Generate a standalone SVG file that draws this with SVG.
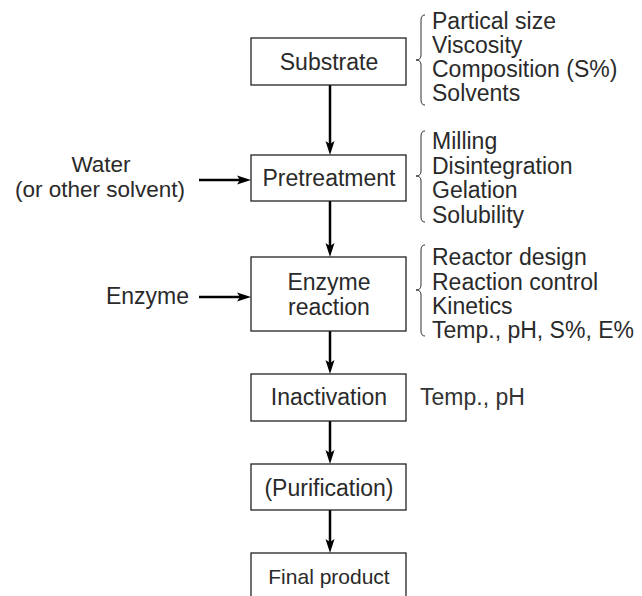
<svg xmlns="http://www.w3.org/2000/svg" width="642" height="596" viewBox="0 0 642 596">
<style>
  text { font-family: "Liberation Sans", Arial, sans-serif; font-size: 23px; fill: #2a2a2a; }
  .c { text-anchor: middle; }
  .box { fill: #fff; stroke: #222; stroke-width: 1.3; }
  .arrow { stroke: #000; stroke-width: 2.5; fill: none; marker-end: url(#ah); }
  .brace { stroke: #333; stroke-width: 1; fill: none; }
</style>
<defs>
  <marker id="ah" viewBox="0 0 14 10" refX="4" refY="5" markerWidth="14" markerHeight="10" markerUnits="userSpaceOnUse" orient="auto">
    <path d="M0,0.5 L14,5 L0,9.5 L3,5 z" fill="#000"/>
  </marker>
</defs>
<rect width="642" height="596" fill="#fff"/>
<g id="connectors">
  <line class="arrow" x1="330" y1="85" x2="330" y2="145"/>
  <line class="arrow" x1="330" y1="201" x2="330" y2="247"/>
  <line class="arrow" x1="330" y1="331" x2="330" y2="364"/>
  <line class="arrow" x1="330" y1="421" x2="330" y2="454"/>
  <line class="arrow" x1="330" y1="510" x2="330" y2="543"/>
  <line class="arrow" x1="199" y1="180" x2="241" y2="180"/>
  <line class="arrow" x1="199" y1="297" x2="241" y2="297"/>
</g>
<g id="substrate">
  <rect class="box" x="251" y="38" width="155" height="47"/>
  <text class="c" x="329" y="70">Substrate</text>
</g>
<g id="pretreatment">
  <rect class="box" x="251" y="155" width="155" height="46"/>
  <text class="c" x="329" y="186">Pretreatment</text>
</g>
<g id="enzyme-reaction">
  <rect class="box" x="251" y="257" width="155" height="74"/>
  <text class="c" x="329" y="290">Enzyme</text>
  <text class="c" x="329" y="315">reaction</text>
</g>
<g id="inactivation">
  <rect class="box" x="251" y="374" width="155" height="47"/>
  <text class="c" x="329" y="405">Inactivation</text>
</g>
<g id="purification">
  <rect class="box" x="251" y="464" width="155" height="46"/>
  <text class="c" x="329" y="496">(Purification)</text>
</g>
<g id="final-product">
  <rect class="box" x="251" y="553" width="155" height="60"/>
  <text class="c" x="329" y="584" style="font-size:21px">Final product</text>
</g>
<g id="water">
  <text class="c" x="101" y="172" style="font-size:22.5px">Water</text>
  <text class="c" x="100" y="197" style="font-size:22.5px">(or other solvent)</text>
</g>
<g id="enzyme-input">
  <text x="189" y="304" text-anchor="end">Enzyme</text>
</g>
<g id="substrate-factors">
  <path class="brace" d="M425,15 Q421,15 421,20 L421,55 Q421,60 416,60 Q421,60 421,65 L421,100 Q421,105 425,105"/>
  <text x="432" y="29">Partical size</text>
  <text x="432" y="53">Viscosity</text>
  <text x="432" y="77">Composition (S%)</text>
  <text x="432" y="101">Solvents</text>
</g>
<g id="pretreatment-factors">
  <path class="brace" d="M425,131 Q421,131 421,136 L421,171 Q421,176 416,176 Q421,176 421,181 L421,217 Q421,222 425,222"/>
  <text x="432" y="149">Milling</text>
  <text x="432" y="174">Disintegration</text>
  <text x="432" y="198">Gelation</text>
  <text x="432" y="223">Solubility</text>
</g>
<g id="reaction-factors">
  <path class="brace" d="M425,245 Q421,245 421,250 L421,285 Q421,290 416,290 Q421,290 421,295 L421,331 Q421,336 425,336"/>
  <text x="432" y="265">Reactor design</text>
  <text x="432" y="290">Reaction control</text>
  <text x="432" y="314">Kinetics</text>
  <text x="432" y="338">Temp., pH, S%, E%</text>
</g>
<g id="inactivation-factors">
  <text x="420" y="405" style="fill:#333">Temp., pH</text>
</g>
</svg>
